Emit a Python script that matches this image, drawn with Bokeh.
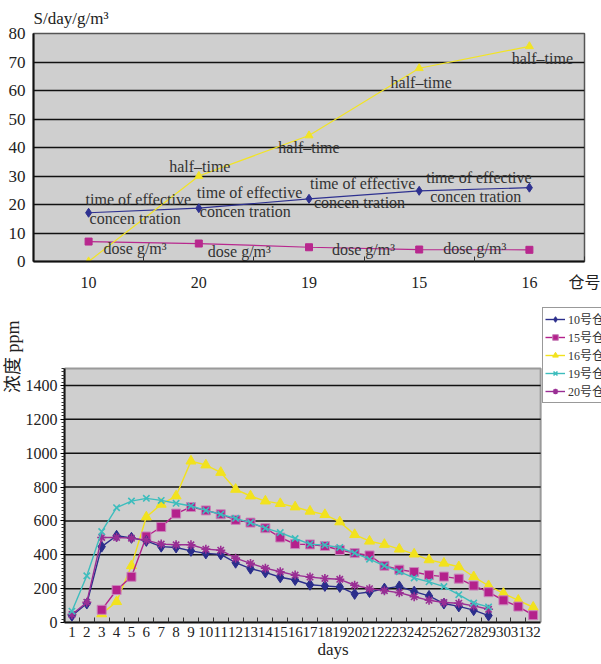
from bokeh.plotting import figure
from bokeh.models import ColumnDataSource, FixedTicker, Legend, LegendItem, Range1d, Title
from bokeh.embed import file_html
from bokeh.resources import INLINE
from bokeh.core.properties import value

NaN = float("nan")
SERIF = "Liberation Serif, Noto Sans CJK SC"

# ---------------- top chart data ----------------
stores = ["10", "20", "19", "15", "16"]
half_time = [0, 30, 44.2, 67.8, 75.5]
effective_time = [17.1, 18.7, 22.0, 24.8, 25.9]
dose = [7.0, 6.3, 5.0, 4.2, 4.1]
top_y_ticks = [0, 10, 20, 30, 40, 50, 60, 70, 80]
top_x_title = "仓号"
top_y_title = "S/day/g/m\u00b3"
half_labels = ["", "half\u2013time", "half\u2013time", "half\u2013time", "half\u2013time"]
eff_labels_a = ["time of effective", "time of effective", "time of effective", "time of effective", ""]
eff_labels_b = ["concen tration", "concen tration", "concen tration", "concen tration", ""]
dose_labels = ["dose g/m\u00b3", "dose g/m\u00b3", "dose g/m\u00b3", "dose g/m\u00b3", ""]

# label placement (screen px offsets from each point)
half_dx = [0, 1, 0, 2, 13]
half_dy = [0, -10, 12, 14, 12]
eff_a_dx = [-3, -2, 1, 7, 0]
eff_a_dy = [-13, -16, -15, -13, 0]
eff_b_dx = [1, 1, 5, 11, 0]
eff_b_dy = [6, 3, 4, 6, 0]
dose_dx = [15, 9, 23, 24, 0]
dose_dy = [7, 8, 2, -1, 0]

# ---------------- bottom chart data ----------------
day_labels = ["1", "2", "3", "4", "5", "6", "7", "8", "9", "10", "11", "12", "13", "14", "15", "16",
              "17", "18", "19", "20", "21", "22", "23", "24", "25", "26", "27", "28", "29", "30", "31", "32"]
s10 = [40, 112, 448, 512, 500, 482, 448, 443, 423, 408, 402, 353, 318, 296, 267, 251,
       223, 216, 210, 169, 180, 200, 213, 182, 157, 112, 95, 73, 41, NaN, NaN, NaN]
s15 = [NaN, NaN, 75, 192, 270, 508, 564, 643, 682, 662, 639, 606, 590, 557, 502, 463,
       461, 452, 428, 410, 396, 335, 312, 298, 280, 271, 259, 218, 179, 131, 94, 43]
s16 = [NaN, NaN, 51, 123, 335, 623, 698, 747, 953, 930, 886, 786, 747, 717, 702, 682,
       657, 637, 594, 519, 480, 461, 433, 404, 370, 350, 329, 270, 217, 172, 131, 90]
s19 = [67, 276, 537, 678, 717, 733, 721, 704, 688, 662, 639, 615, 590, 557, 531, 496,
       463, 457, 443, 410, 374, 335, 300, 263, 240, 212, 164, 115, 92, NaN, NaN, NaN]
s20 = [47, 120, 502, 502, 498, 486, 463, 459, 459, 433, 427, 380, 349, 321, 300, 280,
       268, 260, 255, 220, 200, 188, 176, 152, 131, 118, 114, 98, 78, NaN, NaN, NaN]
series_names = ["10号仓", "15号仓", "16号仓", "19号仓", "20号仓"]
bottom_y_ticks = [0, 200, 400, 600, 800, 1000, 1200, 1400]
bottom_y_max = 1500
bottom_y_title = "浓度 ppm"
bottom_x_title = "days"

W = 601
BG = "#cfcfcf"

# ================= TOP FIGURE =================
# store k sits at 2k+1; the x-axis title sits on the right frame edge
xs = [2 * i + 1 for i in range(len(stores))]
x_edge = 2 * len(stores)
p1 = figure(width=W, height=296, output_backend="svg", toolbar_location=None,
            x_range=Range1d(0, x_edge), y_range=Range1d(0, top_y_ticks[-1]),
            min_border_left=33, min_border_right=17, min_border_top=33, min_border_bottom=35)
p1.background_fill_color = BG
p1.border_fill_color = "white"
p1.outline_line_color = "#555555"
p1.outline_line_width = 1.5
p1.xgrid.grid_line_color = None
p1.ygrid.ticker = FixedTicker(ticks=top_y_ticks)
p1.ygrid.grid_line_color = "#111111"
p1.ygrid.grid_line_width = 1.5

p1.title.text = top_y_title
p1.title.align = "left"
p1.title.text_font = SERIF
p1.title.text_font_size = "17px"
p1.title.text_font_style = "normal"
p1.title.text_color = "#222222"
p1.title.standoff = 12

p1.xaxis.ticker = FixedTicker(ticks=xs + [x_edge], minor_ticks=[x + 1 for x in xs])
overrides = {x: s for x, s in zip(xs, stores)}
overrides[x_edge] = top_x_title
p1.xaxis.major_label_overrides = overrides
p1.yaxis.ticker = FixedTicker(ticks=top_y_ticks)
for ax in (p1.xaxis, p1.yaxis):
    ax.axis_line_color = "#111111"
    ax.axis_line_width = 2
    ax.major_tick_out = 0
    ax.major_tick_in = 0
    ax.major_label_text_font = SERIF
    ax.major_label_text_color = "#222222"
p1.xaxis.major_label_text_font_size = "16px"
p1.yaxis.major_label_text_font_size = "17px"
p1.xaxis.minor_tick_in = 5
p1.xaxis.minor_tick_out = 0
p1.xaxis.minor_tick_line_color = "#333333"
p1.yaxis.minor_tick_line_color = None
p1.xaxis.major_label_standoff = 12
p1.yaxis.major_label_standoff = 8

src_top = ColumnDataSource(dict(
    x=xs, half=half_time, eff=effective_time, dose=dose,
    half_lab=half_labels, eff_a=eff_labels_a, eff_b=eff_labels_b, dose_lab=dose_labels,
    half_dx=half_dx, half_dy=half_dy, eff_a_dx=eff_a_dx, eff_a_dy=eff_a_dy,
    eff_b_dx=eff_b_dx, eff_b_dy=eff_b_dy, dose_dx=dose_dx, dose_dy=dose_dy))

YEL_T, NAV_T, MAG_T = "#F2E424", "#2E3190", "#B8288E"
p1.line("x", "dose", source=src_top, color=MAG_T, line_width=1.2)
p1.scatter("x", "dose", source=src_top, marker="square", size=7, color=MAG_T)
p1.line("x", "eff", source=src_top, color=NAV_T, line_width=1.2)
p1.scatter("x", "eff", source=src_top, marker="diamond", size=9, color=NAV_T)
p1.line("x", "half", source=src_top, color=YEL_T, line_width=1.2)
p1.scatter("x", "half", source=src_top, marker="triangle", size=8, color=YEL_T)

lab_kw = dict(source=src_top, text_font=value(SERIF), text_font_size="16px",
              text_color="#333333", text_baseline="middle")
p1.text("x", "half", text="half_lab", x_offset="half_dx", y_offset="half_dy",
        text_align="center", **lab_kw)
p1.text("x", "eff", text="eff_a", x_offset="eff_a_dx", y_offset="eff_a_dy",
        text_align="left", **lab_kw)
p1.text("x", "eff", text="eff_b", x_offset="eff_b_dx", y_offset="eff_b_dy",
        text_align="left", **lab_kw)
p1.text("x", "dose", text="dose_lab", x_offset="dose_dx", y_offset="dose_dy",
        text_align="left", **lab_kw)

# ================= BOTTOM FIGURE =================
xd = list(range(1, len(day_labels) + 1))
x_lo, x_hi = 0.5, len(day_labels) + 0.5
# frame extends right / up beyond the grey plot area so the legend can sit there
p2 = figure(width=W, height=368, output_backend="svg", toolbar_location=None,
            x_range=Range1d(x_lo, 36.59), y_range=Range1d(0, 1866),
            min_border_left=63, min_border_right=0, min_border_top=10, min_border_bottom=42)
p2.background_fill_color = "white"
p2.border_fill_color = "white"
p2.outline_line_color = None
p2.xgrid.grid_line_color = None
p2.ygrid.grid_line_color = None

# grey plot area and its horizontal grid lines
p2.quad(left=x_lo, right=x_hi, bottom=0, top=bottom_y_max, fill_color=BG,
        line_color="#9a9a9a", line_width=2)
grid_y = bottom_y_ticks[1:]
p2.segment(x0=[x_lo] * len(grid_y), y0=grid_y, x1=[x_hi] * len(grid_y), y1=grid_y,
           line_color="#111111", line_width=1.5)

p2.xaxis.ticker = FixedTicker(ticks=xd, minor_ticks=[i + 0.5 for i in xd[:-1]])
p2.xaxis.major_label_overrides = {i: s for i, s in zip(xd, day_labels)}
p2.xaxis.bounds = (x_lo, x_hi)
p2.yaxis.ticker = FixedTicker(ticks=bottom_y_ticks,
                              minor_ticks=[v for v in range(0, bottom_y_max + 1, 20) if v % 200 != 0])
p2.yaxis.bounds = (0, bottom_y_max)
for ax in (p2.xaxis, p2.yaxis):
    ax.axis_line_color = "#111111"
    ax.axis_line_width = 2
    ax.major_label_text_font = SERIF
    ax.major_label_text_color = "#222222"
p2.xaxis.major_label_text_font_size = "15px"
p2.yaxis.major_label_text_font_size = "16px"
p2.xaxis.major_tick_out = 0
p2.xaxis.major_tick_in = 0
p2.xaxis.minor_tick_in = 5
p2.xaxis.minor_tick_out = 0
p2.xaxis.minor_tick_line_color = "#333333"
p2.xaxis.major_label_standoff = 4
p2.xaxis.axis_label = bottom_x_title
p2.xaxis.axis_label_text_font = SERIF
p2.xaxis.axis_label_text_font_style = "normal"
p2.xaxis.axis_label_text_font_size = "17px"
p2.xaxis.axis_label_text_color = "#222222"
p2.xaxis.axis_label_standoff = 0
p2.yaxis.major_tick_out = 4
p2.yaxis.major_tick_in = 0
p2.yaxis.minor_tick_out = 3
p2.yaxis.minor_tick_in = 0
p2.yaxis.minor_tick_line_color = "#333333"
p2.yaxis.major_label_standoff = 3

src_b = ColumnDataSource(dict(x=xd, s10=s10, s15=s15, s16=s16, s19=s19, s20=s20))
C10, C15, C16, C19, C20 = "#2B2E8C", "#B4218C", "#F2E21E", "#3DBDBD", "#9A2E94"

l16 = p2.line("x", "s16", source=src_b, color=C16, line_width=1.4)
m16 = p2.scatter("x", "s16", source=src_b, marker="triangle", size=10, color=C16)
l15 = p2.line("x", "s15", source=src_b, color=C15, line_width=1.4)
m15 = p2.scatter("x", "s15", source=src_b, marker="square", size=9, fill_color=C15,
                 line_color="#C985BB", line_width=1)
l10 = p2.line("x", "s10", source=src_b, color=C10, line_width=1.4)
m10 = p2.scatter("x", "s10", source=src_b, marker="diamond", size=11, color=C10)
l20 = p2.line("x", "s20", source=src_b, color=C20, line_width=1.4)
m20 = p2.scatter("x", "s20", source=src_b, marker="asterisk", size=9, line_color=C20, line_width=1.6)
l19 = p2.line("x", "s19", source=src_b, color=C19, line_width=1.4)
m19 = p2.scatter("x", "s19", source=src_b, marker="x", size=9, line_color=C19, line_width=1.6)

legend = Legend(items=[
    LegendItem(label=series_names[0], renderers=[l10, m10]),
    LegendItem(label=series_names[1], renderers=[l15, m15]),
    LegendItem(label=series_names[2], renderers=[l16, m16]),
    LegendItem(label=series_names[3], renderers=[l19, m19]),
    LegendItem(label=series_names[4], renderers=[l20, m20]),
], location=(478, 219))
legend.label_text_font = SERIF
legend.label_text_font_size = "12px"
legend.label_text_color = "#333333"
legend.glyph_width = 20
legend.glyph_height = 14
legend.label_height = 14
legend.label_standoff = 3
legend.spacing = 0
legend.padding = 2
legend.margin = 0
legend.border_line_color = "#333333"
legend.border_line_width = 1
legend.background_fill_color = "white"
legend.background_fill_alpha = 1
p2.add_layout(legend)

ytitle = Title(text=bottom_y_title, align="right", offset=14, standoff=0,
               text_font=SERIF, text_font_size="18px", text_font_style="normal",
               text_color="#222222")
p2.add_layout(ytitle, "left")

open("out.html", "w").write(file_html([p1, p2], INLINE))
